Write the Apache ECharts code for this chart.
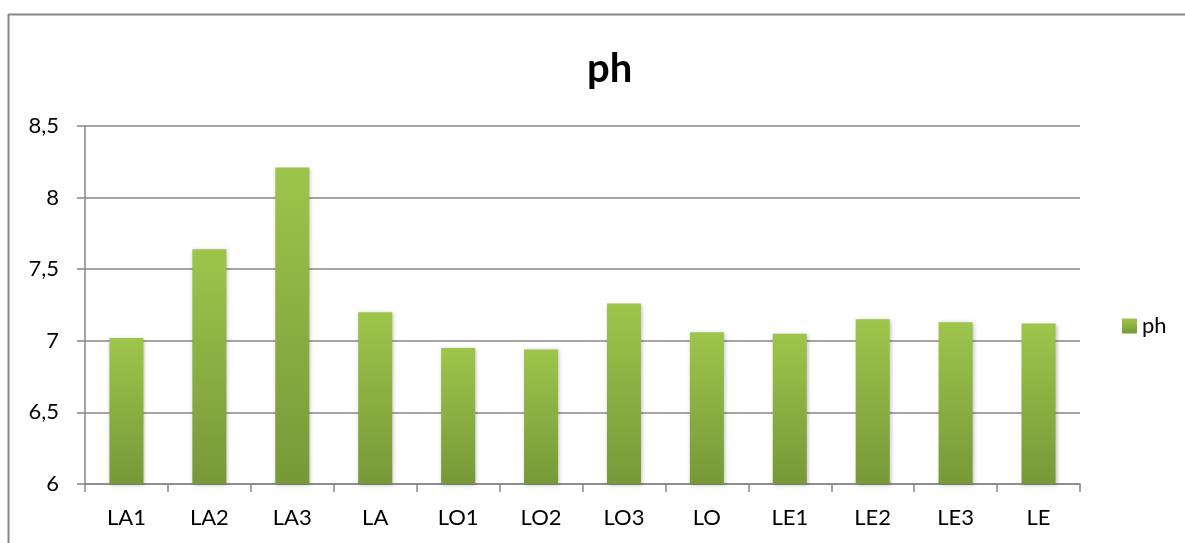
<!DOCTYPE html>
<html>
<head>
<meta charset="utf-8">
<script src="https://cdn.jsdelivr.net/npm/echarts@6/dist/echarts.min.js"></script>
<style>
  html, body { margin: 0; padding: 0; background: #fff; }
  #main { width: 1185px; height: 543px; }
</style>
</head>
<body>
<div id="main"></div>
<script>
// 数据
var categories = ['LA1', 'LA2', 'LA3', 'LA', 'LO1', 'LO2', 'LO3', 'LO', 'LE1', 'LE2', 'LE3', 'LE'];
var phValues = [7.02, 7.64, 8.21, 7.20, 6.95, 6.94, 7.26, 7.06, 7.05, 7.15, 7.13, 7.12];
var yTicks = [6, 6.5, 7, 7.5, 8, 8.5];

var myChart = echarts.init(document.getElementById('main'));
var font = 'Lato, "Open Sans", sans-serif';
var gridColor = '#878787';

var barColor = new echarts.graphic.LinearGradient(0, 0, 0, 1, [
  { offset: 0, color: '#9dc54b' },
  { offset: 1, color: '#779838' }
]);

var option = {
  backgroundColor: '#fff',
  animation: false,
  title: {
    text: 'ph',
    left: 582,
    top: 44,
    textStyle: { fontFamily: font, fontSize: 40, fontWeight: 'bold', color: '#000' }
  },
  legend: {
    data: ['ph'],
    left: 1117,
    top: 310,
    itemWidth: 15,
    itemHeight: 15,
    itemGap: 6,
    icon: 'rect',
    textStyle: { fontFamily: font, fontSize: 22, color: '#000', padding: [0, 0, 0, 0] }
  },
  grid: { left: 85, right: 105, top: 126, bottom: 59 },
  xAxis: {
    type: 'category',
    data: categories,
    axisLine: { lineStyle: { color: gridColor, width: 1.5 } },
    axisTick: { show: true, length: 8, lineStyle: { color: gridColor, width: 1.5 } },
    axisLabel: { fontFamily: font, fontSize: 22, color: '#000', margin: 23 }
  },
  yAxis: {
    type: 'value',
    min: yTicks[0],
    max: yTicks[yTicks.length - 1],
    interval: 0.5,
    axisLine: { show: true, lineStyle: { color: gridColor, width: 1.5 } },
    axisTick: { show: true, inside: false, length: 8, lineStyle: { color: gridColor, width: 1.5 } },
    splitLine: { lineStyle: { color: gridColor, width: 1.5 } },
    axisLabel: {
      fontFamily: font, fontSize: 22, color: '#000', margin: 26,
      formatter: function (v) { return String(v).replace('.', ','); }
    }
  },
  series: [{
    name: 'ph',
    type: 'bar',
    data: phValues,
    barWidth: 34,
    itemStyle: {
      color: barColor,
      shadowBlur: 4,
      shadowColor: 'rgba(0,0,0,0.25)',
      shadowOffsetX: 1,
      shadowOffsetY: 1
    }
  }],
  graphic: [
    { type: 'line', shape: { x1: 8.5, y1: 14, x2: 8.5, y2: 543 }, style: { stroke: '#868686', lineWidth: 2 } },
    { type: 'line', shape: { x1: 8, y1: 14.5, x2: 1185, y2: 14.5 }, style: { stroke: '#868686', lineWidth: 2 } }
  ]
};

myChart.setOption(option);
</script>
</body>
</html>
